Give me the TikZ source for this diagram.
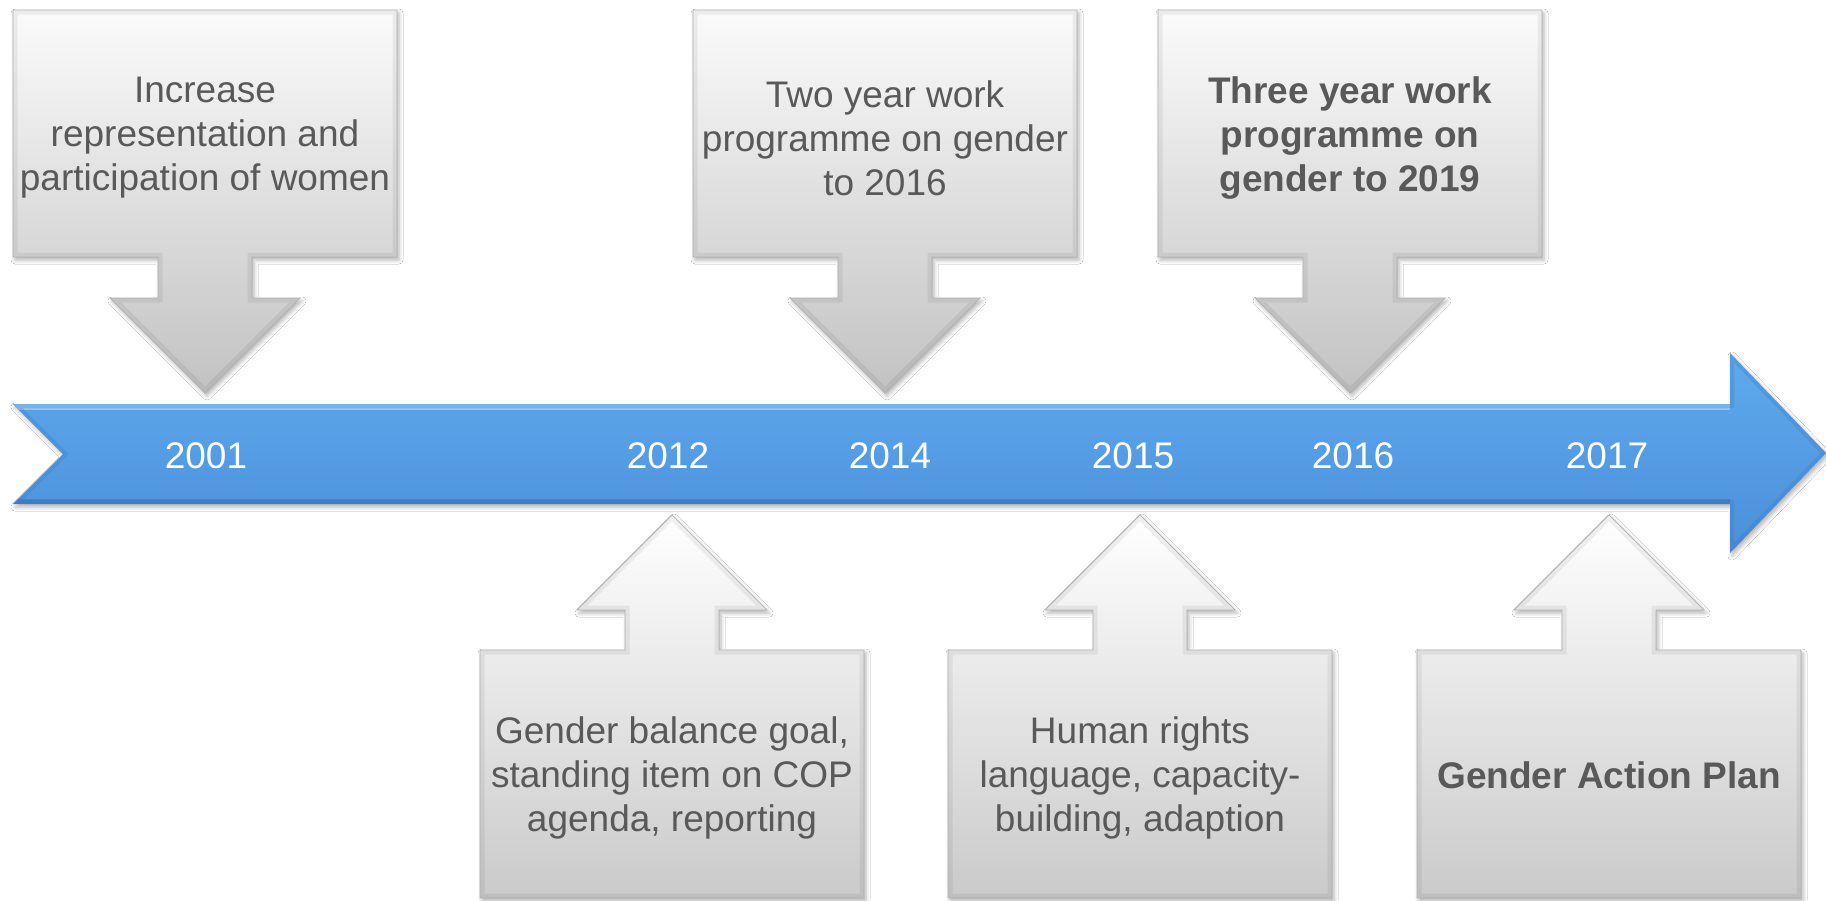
\documentclass[tikz,border=0pt]{standalone}
\usepackage{fontspec}
\setmainfont{Liberation Sans}
\usetikzlibrary{shadows.blur}
\definecolor{txt}{HTML}{595959}
\definecolor{blueT}{HTML}{5FAAEE}
\definecolor{blueA}{HTML}{519BE6}
\definecolor{blueB}{HTML}{4A8FDA}
\definecolor{blueHi}{HTML}{9AD2F8}
\definecolor{blueDk}{HTML}{3A74B8}
\definecolor{dnTop}{HTML}{FBFBFB}
\definecolor{dnBot}{HTML}{C2C2C2}
\definecolor{upTop}{HTML}{FFFFFF}
\definecolor{upBot}{HTML}{CACACA}
\definecolor{edge}{HTML}{B0B0B0}
\newcommand\dncallout[1]{%
  \begin{scope}[xshift=#1pt]
    \path[softshadow, top color=dnTop, bottom color=dnBot, downpath];
    \begin{scope}
      \clip[downpath];
      \draw[downpath, line width=9pt, draw=black, opacity=0.06];
    \end{scope}
    \draw[downpath, draw=edge, line width=0.7pt];
  \end{scope}}
\newcommand\upcallout[1]{%
  \begin{scope}[xshift=#1pt]
    \path[softshadow, top color=upTop, bottom color=upBot, uppath];
    \begin{scope}
      \clip[uppath];
      \draw[uppath, line width=9pt, draw=black, opacity=0.06];
    \end{scope}
    \draw[uppath, draw=edge, line width=0.7pt];
  \end{scope}}
\begin{document}
\begin{tikzpicture}[x=1pt,y=-1pt,
  downpath/.style={insert path={(-192,10) -- (192,10) -- (192,257) -- (47,257) -- (47,298) -- (95,298) -- (0,393) -- (-95,298) -- (-47,298) -- (-47,257) -- (-192,257) -- cycle}},
  uppath/.style={insert path={(0,515) -- (95,610) -- (47,610) -- (47,650) -- (192,650) -- (192,898) -- (-192,898) -- (-192,650) -- (-47,650) -- (-47,610) -- (-95,610) -- cycle}},
  arrowpath/.style={insert path={(13,404) -- (1730,404) -- (1730,353) -- (1826,453) -- (1730,553) -- (1730,504) -- (13,504) -- (63,454) -- cycle}},
  softshadow/.style={blur shadow={shadow xshift=2pt,shadow yshift=-3pt,shadow blur radius=4pt,shadow opacity=30}},
  cardtext/.style={text=txt, align=center, font=\fontsize{37}{44}\selectfont, inner sep=0pt},
  boldtext/.style={cardtext, font=\fontsize{37}{44}\selectfont\bfseries},
  yeartext/.style={text=white, font=\fontsize{37}{44}\selectfont, inner sep=0pt},
]
\useasboundingbox[fill=white] (0,0) rectangle (1826,900);

% main timeline arrow
\path[softshadow, top color=blueT, middle color=blueA, bottom color=blueB, arrowpath];
\begin{scope}
  \clip[arrowpath];
  \fill[blueHi, opacity=0.8] (13,404) rectangle (1730,410);
  \fill[blueDk, opacity=0.6] (13,499) rectangle (1730,504);
  \draw[arrowpath, line width=8pt, draw=blueDk, opacity=0.25];
\end{scope}

% callouts
\dncallout{205}
\dncallout{885}
\dncallout{1350}
\upcallout{672}
\upcallout{1140}
\upcallout{1609}

% texts
\node[cardtext] (c1) at (205,138) {Increase\\representation and\\participation of women};
\node[cardtext] (c2) at (885,138) {Two year work\\programme on gender\\to 2016};
\node[boldtext] (c3) at (1350,138) {Three year work\\programme on\\gender to 2019};
\node[cardtext] (c4) at (672,778) {Gender balance goal,\\standing item on COP\\agenda, reporting};
\node[cardtext] (c5) at (1140,778) {Human rights\\language, capacity-\\building, adaption};
\node[boldtext] (c6) at (1609,775) {Gender Action Plan};

% years
\node[yeartext] (y1) at (206,456) {2001};
\node[yeartext] (y2) at (668,456) {2012};
\node[yeartext] (y3) at (890,456) {2014};
\node[yeartext] (y4) at (1133,456) {2015};
\node[yeartext] (y5) at (1353,456) {2016};
\node[yeartext] (y6) at (1607,456) {2017};
\end{tikzpicture}
\end{document}
